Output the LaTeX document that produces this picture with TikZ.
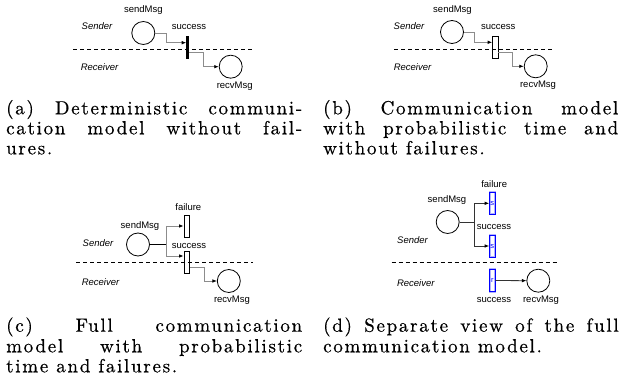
\documentclass[tikz,border=0pt]{standalone}
\usepackage{fontspec}
\setsansfont{Liberation Sans}
\newfontfamily\capfont[LetterSpace=9, FakeBold=0.5]{lmroman10-regular.otf}
\usetikzlibrary{arrows.meta}

\tikzset{
  place/.style={draw, circle, minimum size=23pt, inner sep=0pt, line width=0.8pt},
  lbl/.style={font=\sffamily\fontsize{9.5}{11}\selectfont, inner sep=0pt},
  lane/.style={font=\sffamily\itshape\fontsize{9.5}{11}\selectfont, inner sep=0pt},
  immbar/.style={fill=black, minimum width=2.6pt, minimum height=23pt, inner sep=0pt},
  timedbar/.style={draw, line width=0.8pt, minimum width=5.5pt, minimum height=22.5pt, inner sep=0pt},
  splitbar/.style={draw=blue, line width=0.8pt, minimum width=5.5pt, minimum height=22pt, inner sep=0pt,
    preaction={draw=blue!30, line width=2pt}, font=\sffamily\fontsize{7.5}{8}\selectfont, text=blue},
  arc/.style={draw=black!45, line width=0.8pt, -{Latex[length=4.5pt,width=3.6pt,color=black]}},
  arcplain/.style={draw=black!45, line width=0.8pt},
  arcdark/.style={draw=black!80, line width=0.8pt, -{Latex[length=4.5pt,width=3.6pt,color=black]}},
  lanesep/.style={line width=0.8pt, dash pattern=on 4pt off 3pt},
  capline/.style={anchor=base west, inner sep=0pt, font=\capfont\fontsize{19}{20.5}\selectfont},
}

\begin{document}
\begin{tikzpicture}[x=1pt, y=-1pt]
\useasboundingbox (0,0) rectangle (638,385);

% ---------- (a) deterministic, no failures ----------
\node[lane] (a-snd) at (97,26) {Sender};
\node[lane] (a-rcv) at (99.5,67) {Receiver};
\node[place] (a-send) at (143.3,33) {};
\node[lbl] at (143.3,10) {sendMsg};
\node[immbar] (a-succ) at (187.7,47.5) {};
\node[lbl] at (189,27) {success};
\node[place] (a-recv) at (230.7,66.7) {};
\node[lbl] at (234.7,86.7) {recvMsg};
\coordinate (a-d1) at (73,49);
\coordinate (a-d2) at (252,49);
\draw[lanesep] (a-d1) -- (a-d2);
\coordinate (a-k1) at (166,42.7);
\coordinate (a-k2) at (203.3,52.3);
\draw[arc] (a-send.east) -| (a-k1) -- (a-succ.west |- a-k1);
\draw[arc] (a-succ.east |- a-k2) -- (a-k2) |- (a-recv.west);

% ---------- (b) probabilistic time, no failures ----------
\node[lane] (b-snd) at (409,26) {Sender};
\node[lane] (b-rcv) at (412.5,67) {Receiver};
\node[place] (b-send) at (452,32) {};
\node[lbl] at (452.5,10) {sendMsg};
\node[timedbar] (b-succ) at (495.3,47.5) {};
\node[lbl] at (498.3,27) {success};
\node[place] (b-recv) at (535.7,66.3) {};
\node[lbl] at (538,85.5) {recvMsg};
\coordinate (b-d1) at (394,49);
\coordinate (b-d2) at (554,49);
\draw[lanesep] (b-d1) -- (b-d2);
\coordinate (b-k1) at (474,42.3);
\coordinate (b-k2) at (512.7,52.3);
\draw[arc] (b-send.east) -| (b-k1) -- (b-succ.west |- b-k1);
\draw[arc] (b-succ.east |- b-k2) -- (b-k2) |- (b-recv.west);

% ---------- (c) full model ----------
\node[lane] (c-snd) at (98,243.3) {Sender};
\node[lane] (c-rcv) at (100.5,282.3) {Receiver};
\node[place] (c-send) at (138,244.5) {};
\node[lbl] at (140,226) {sendMsg};
\node[timedbar] (c-fail) at (186.7,226.3) {};
\node[lbl] at (188.3,206.7) {failure};
\node[timedbar] (c-succ) at (186.7,262.5) {};
\node[lbl] at (189,246) {success};
\node[place] (c-recv) at (228.8,281) {};
\node[lbl] at (232,300) {recvMsg};
\coordinate (c-d1) at (76,262.3);
\coordinate (c-d2) at (252.7,262.3);
\draw[lanesep] (c-d1) -- (c-d2);
\coordinate (c-j) at (166,244.5);
\coordinate (c-kf) at (166,226);
\coordinate (c-ks) at (166,256);
\coordinate (c-k2) at (204,267.7);
\draw[line width=0.8pt] (c-send.east) -- (c-j);
\draw[arcplain] (c-kf) -- (c-ks);
\draw[arc] (c-kf) -- (c-fail.west |- c-kf);
\draw[arc] (c-ks) -- (c-succ.west |- c-ks);
\draw[arc] (c-succ.east |- c-k2) -- (c-k2) |- (c-recv.west);

% ---------- (d) separate view ----------
\node[lane] (d-snd) at (412.5,240) {Sender};
\node[lane] (d-rcv) at (415.8,283.3) {Receiver};
\node[place] (d-send) at (447.7,222) {};
\node[lbl] at (447,200) {sendMsg};
\node[splitbar] (d-fail) at (492.3,203.3) {s};
\node[lbl] at (494.2,184) {failure};
\node[splitbar] (d-succ) at (492.3,246.3) {s};
\node[lbl] at (494,227) {success};
\node[splitbar] (d-recvt) at (492.3,280.5) {r};
\node[lbl] at (494,300) {success};
\node[place] (d-recv) at (538.3,280.7) {};
\node[lbl] at (541,300) {recvMsg};
\coordinate (d-d1) at (391.7,262.3);
\coordinate (d-d2) at (556.7,262.3);
\draw[lanesep] (d-d1) -- (d-d2);
\coordinate (d-j) at (474.3,222);
\coordinate (d-kf) at (474.3,203.3);
\coordinate (d-ks) at (474.3,246);
\draw[draw=black!80, line width=0.8pt] (d-send.east) -- (d-j);
\draw[draw=black!80, line width=0.8pt] (d-kf) -- (d-ks);
\draw[arcdark] (d-kf) -- (d-fail.west |- d-kf);
\draw[arcdark] (d-ks) -- (d-succ.west |- d-ks);
\draw[arcdark] (d-recvt.east) -- (d-recv.west);

% ---------- captions ----------
\node[capline] (cap-a1) at (6,114.3) {\makebox[296pt][s]{(a) Deterministic communi-}};
\node[capline] (cap-a2) at (6,134.3) {\makebox[296pt][s]{cation model without fail-}};
\node[capline] (cap-a3) at (6,154.3) {ures.};
\node[capline] (cap-b1) at (323,114.3) {\makebox[295pt][s]{(b) Communication model}};
\node[capline] (cap-b2) at (323,134.3) {\makebox[295pt][s]{with probabilistic time and}};
\node[capline] (cap-b3) at (323,154.3) {without failures.};
\node[capline] (cap-c1) at (6,331.7) {\makebox[296pt][s]{(c) Full communication}};
\node[capline] (cap-c2) at (6,352.3) {\makebox[296pt][s]{model with probabilistic}};
\node[capline] (cap-c3) at (6,372.3) {time and failures.};
\node[capline] (cap-d1) at (323,331.7) {\makebox[295.5pt][s]{(d) Separate view of the full}};
\node[capline] (cap-d2) at (323,352.3) {communication model.};
\end{tikzpicture}
\end{document}
